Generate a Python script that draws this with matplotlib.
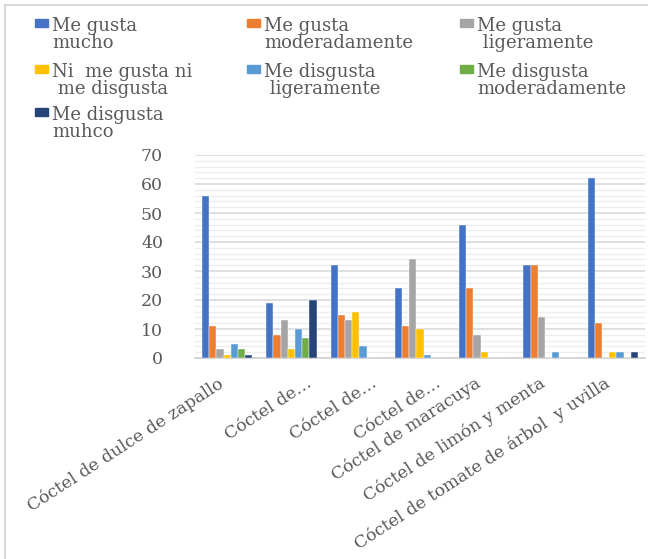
import matplotlib
matplotlib.use("Agg")
import matplotlib.pyplot as plt
import numpy as np
from matplotlib.patches import Rectangle
from matplotlib.lines import Line2D
from matplotlib.transforms import ScaledTranslation

categories = [
    "Cóctel de dulce de zapallo",
    "Cóctel de…",
    "Cóctel de…",
    "Cóctel de…",
    "Cóctel de maracuya",
    "Cóctel de limón y menta",
    "Cóctel de tomate de árbol  y uvilla",
]
series_names = [
    "Me gusta\nmucho",
    "Me gusta\nmoderadamente",
    "Me gusta\n ligeramente",
    "Ni  me gusta ni\n me disgusta",
    "Me disgusta\n ligeramente",
    "Me disgusta\nmoderadamente",
    "Me disgusta\nmuhco",
]
me_gusta_mucho = [56, 19, 32, 24, 46, 32, 62]
me_gusta_moderadamente = [11, 8, 15, 11, 24, 32, 12]
me_gusta_ligeramente = [3, 13, 13, 34, 8, 14, 0]
ni_gusta_ni_disgusta = [1, 3, 16, 10, 2, 0, 2]
me_disgusta_ligeramente = [5, 10, 4, 1, 0, 2, 2]
me_disgusta_moderadamente = [3, 7, 0, 0, 0, 0, 0]
me_disgusta_mucho = [1, 20, 0, 0, 0, 0, 2]
series = [me_gusta_mucho, me_gusta_moderadamente, me_gusta_ligeramente,
          ni_gusta_ni_disgusta, me_disgusta_ligeramente,
          me_disgusta_moderadamente, me_disgusta_mucho]
colors = ["#4472C4", "#ED7D31", "#A5A5A5", "#FFC000", "#5B9BD5", "#70AD47", "#264478"]
y_ticks = [0, 10, 20, 30, 40, 50, 60, 70]

W, H = 648, 559
fig = plt.figure(figsize=(W / 100, H / 100), dpi=100)
fig.patch.set_facecolor("white")
serif = "DejaVu Serif"
txt_color = "#595959"

ax = fig.add_axes([195 / W, 1 - 358 / H, 450 / W, 203 / H])
n = len(series)
bw = 0.112
x = np.arange(len(categories))
for i, (vals, c) in enumerate(zip(series, colors)):
    ax.bar(x + (i - (n - 1) / 2) * bw, vals, width=bw, color=c, zorder=3,
           edgecolor="white", linewidth=0.3)

ax.set_xlim(-0.5, len(categories) - 0.5)
ax.set_ylim(0, 70)
ax.set_yticks(y_ticks)
ax.set_yticks(np.arange(0, 71, 2), minor=True)
ax.yaxis.grid(True, which="major", color="#D9D9D9", linewidth=1.2, zorder=0)
ax.yaxis.grid(True, which="minor", color="#EDEDED", linewidth=1.0, zorder=0)
for s in ["top", "right", "left"]:
    ax.spines[s].set_visible(False)
ax.spines["bottom"].set_color("#D0D0D0")
ax.spines["bottom"].set_linewidth(1.2)
ax.tick_params(axis="both", which="both", length=0)
ax.tick_params(axis="y", pad=23)
for lab in ax.get_yticklabels():
    lab.set_fontfamily(serif)
    lab.set_fontsize(12.5)
    lab.set_color(txt_color)

ax.set_xticks(x)
ax.set_xticklabels(categories, rotation=33, ha="right", va="top",
                   rotation_mode="default", fontfamily=serif, fontsize=12.4,
                   color=txt_color)
ax.tick_params(axis="x", pad=12)
for lab in ax.get_xticklabels():
    if lab.get_text().endswith("…"):
        lab.set_transform(lab.get_transform() +
                          ScaledTranslation(0.24, 0, fig.dpi_scale_trans))

# legend (manual grid)
col_x = [35, 247, 460]
row_y = [19, 65, 108]
for i, (name, c) in enumerate(zip(series_names, colors)):
    r, cidx = divmod(i, 3)
    mx, my = col_x[cidx], row_y[r]
    fig.patches.append(Rectangle((mx / W, 1 - (my + 8) / H), 13 / W, 8 / H,
                                 transform=fig.transFigure, color=c))
    fig.text((mx + 17) / W, 1 - (my - 2) / H, name, fontfamily=serif,
             fontsize=13, color=txt_color, ha="left", va="top",
             linespacing=0.95)

# border
fig.add_artist(Line2D([5 / W, 5 / W], [0, 1 - 5 / H], transform=fig.transFigure,
                      color="#D9D9D9", linewidth=1.5))
fig.add_artist(Line2D([5 / W, 1], [1 - 5 / H, 1 - 5 / H], transform=fig.transFigure,
                      color="#D9D9D9", linewidth=1.5))

fig.savefig("out.png", dpi=100)
